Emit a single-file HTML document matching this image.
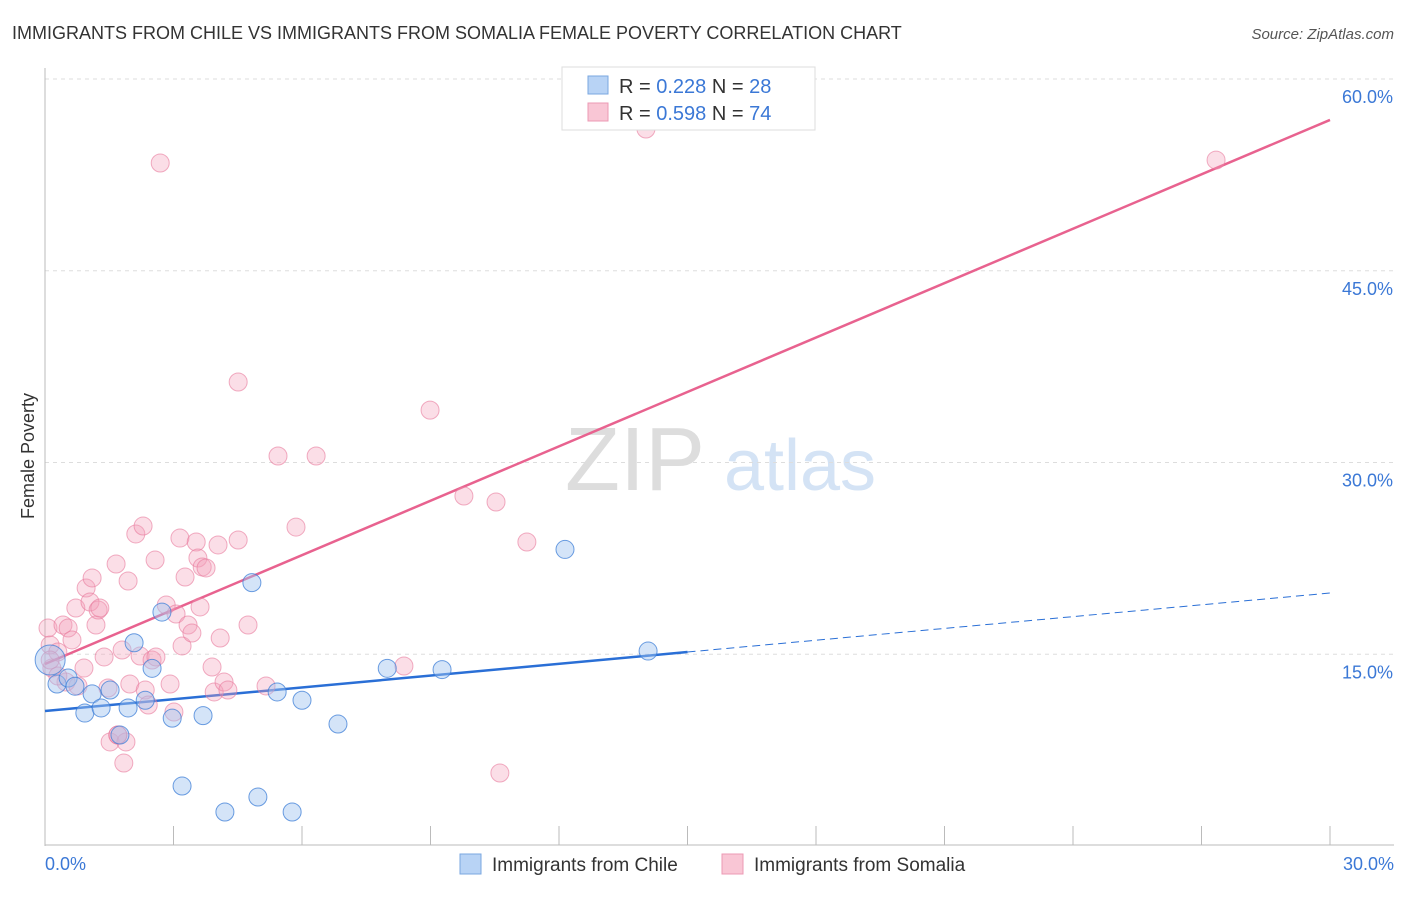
<!DOCTYPE html>
<html><head><meta charset="utf-8"><style>
body{margin:0;background:#fff;font-family:"Liberation Sans",sans-serif;}
svg text{font-family:"Liberation Sans",sans-serif;}
</style></head><body>
<svg id="c" width="1406" height="892" xmlns="http://www.w3.org/2000/svg">
<text x="12" y="39" font-size="18" fill="#333">IMMIGRANTS FROM CHILE VS IMMIGRANTS FROM SOMALIA FEMALE POVERTY CORRELATION CHART</text>
<text x="1394" y="39" font-size="15" fill="#555" font-style="italic" text-anchor="end">Source: ZipAtlas.com</text>
<text x="34" y="456" font-size="18" fill="#333" text-anchor="middle" transform="rotate(-90 34 456)">Female Poverty</text>
<g>
<text x="635" y="490" font-size="90" fill="#ddd" font-family="Liberation Serif" text-anchor="middle">ZIP</text>
<text x="800" y="490" font-size="72" fill="#d4e3f5" text-anchor="middle">atlas</text>
</g>
<g id="grid"></g>
<g id="axes"></g>
<g id="trends"></g>
<g id="pts"></g>
<g>
<rect x="562" y="67" width="253" height="63" fill="#fff" stroke="#ddd"/>
<rect x="588" y="76" width="20" height="18" fill="#b8d3f5" stroke="#7aa7e0"/>
<rect x="588" y="103" width="20" height="18" fill="#f9c6d5" stroke="#ec9ab4"/>
<text x="619" y="93" font-size="20" fill="#333">R = <tspan fill="#3b78d6">0.228</tspan>   N = <tspan fill="#3b78d6">28</tspan></text>
<text x="619" y="120" font-size="20" fill="#333">R = <tspan fill="#3b78d6">0.598</tspan>   N = <tspan fill="#3b78d6">74</tspan></text>
</g>
<g>
<rect x="460" y="854" width="21" height="20" fill="#b8d3f5" stroke="#7aa7e0"/>
<text x="492" y="871" font-size="19" fill="#333">Immigrants from Chile</text>
<rect x="722" y="854" width="21" height="20" fill="#f9c6d5" stroke="#ec9ab4"/>
<text x="754" y="871" font-size="19" fill="#333">Immigrants from Somalia</text>
</g>
</svg>
<script>
const yTicks=[15,30,45,60];
const yTickLabels=["15.0%","30.0%","45.0%","60.0%"];
const xTicks=[0,3,6,9,12,15,18,21,24,27,30];
const xEndLabels=["0.0%","30.0%"];
const chileX=[0.28,0.54,0.93,1.10,1.31,1.52,1.75,1.94,2.08,2.34,2.50,2.73,2.97,3.20,3.69,4.20,4.83,4.97,5.42,5.77,6.00,6.84,7.99,9.27,12.14,14.08,0.12,0.70];
const chileY=[12.67,13.14,10.4,11.9,10.8,12.2,8.68,10.8,15.9,11.4,13.9,18.3,10.0,4.69,10.2,2.66,20.6,3.83,12.05,2.66,11.4,9.54,13.9,13.8,23.2,15.25,14.55,12.5];
const somX=[.07,.12,.16,.30,.42,.49,.54,.63,.72,.77,.91,.96,1.05,1.10,1.19,1.24,1.28,1.38,1.47,1.52,1.66,1.70,1.80,1.84,1.89,1.94,1.98,2.12,2.22,2.29,2.34,2.41,2.50,2.57,2.59,2.69,2.83,2.92,3.01,3.06,3.15,3.20,3.27,3.34,3.43,3.53,3.57,3.62,3.67,3.76,3.90,3.95,4.04,4.09,4.18,4.27,4.51,4.51,4.74,5.16,5.44,5.86,6.33,8.38,8.99,9.78,10.53,10.62,11.25,14.03,27.34,.12,.30,1.70];
const somY=[17.05,15.72,13.92,15.18,17.29,12.83,17.05,16.12,18.62,12.52,13.92,20.18,19.09,20.97,17.29,18.46,18.62,14.79,12.36,8.14,22.06,8.68,15.33,6.49,8.14,20.73,12.67,24.41,14.86,25.03,12.2,11.03,14.55,22.37,14.79,53.43,18.85,12.67,10.48,18.15,24.09,15.65,21.04,17.29,16.66,23.78,22.53,18.7,21.83,21.75,14.0,12.05,23.55,16.27,12.83,12.2,23.94,36.3,17.29,12.52,30.51,24.95,30.51,14.08,34.1,27.38,26.91,5.71,23.78,56.09,53.66,14.55,13.3,8.68];
const chileTrend=[10.56,19.79];
const somTrend=[14.24,56.8];
const chileSolidEnd=15;
const NS="http://www.w3.org/2000/svg";
const X=v=>45+v/30*1285;
const Y=v=>846-v*12.783;
function mk(t,a,p){const e=document.createElementNS(NS,t);for(const k in a)e.setAttribute(k,a[k]);document.getElementById(p).appendChild(e);return e;}
yTicks.forEach((t,i)=>{
 const l=mk('line',{x1:45,x2:1394,y1:Y(t),y2:Y(t),stroke:'#ddd','stroke-dasharray':'4,4'},'grid');
 
 
 const tx=mk('text',{x:1393,y:Y(t)+24,'font-size':18,fill:'#3b78d6','text-anchor':'end'},'grid');
 tx.textContent=yTickLabels[i];
 
 
});
const ax=mk('line',{x1:45,x2:45,y1:68,y2:846,stroke:'#bbb'},'axes');


const bx=mk('line',{x1:45,x2:1394,y1:845,y2:845,stroke:'#bbb'},'axes');


xTicks.forEach(t=>{
 const l=mk('line',{x1:X(t),x2:X(t),y1:826,y2:845,stroke:'#bbb'},'axes');
 
 
});
[[0,'start',45],[30,'end',1394]].forEach((d,i)=>{
 const tx=mk('text',{x:d[2],y:870,'font-size':18,fill:'#3b78d6','text-anchor':d[1]},'axes');
 tx.textContent=xEndLabels[i];
 
 
});
const cy=x=>chileTrend[0]+(chileTrend[1]-chileTrend[0])*x/30;
let l1=mk('line',{x1:X(0),y1:Y(cy(0)),x2:X(chileSolidEnd),y2:Y(cy(chileSolidEnd)),stroke:'#2a6fd6','stroke-width':2.5},'trends');


let l2=mk('line',{x1:X(chileSolidEnd),y1:Y(cy(chileSolidEnd)),x2:X(30),y2:Y(cy(30)),stroke:'#2a6fd6','stroke-width':1,'stroke-dasharray':'8,5'},'trends');


let l3=mk('line',{x1:X(0),y1:Y(somTrend[0]),x2:X(30),y2:Y(somTrend[1]),stroke:'#e8628f','stroke-width':2.5},'trends');


somX.forEach((x,i)=>{
 const c=mk('circle',{cx:X(x),cy:Y(somY[i]),r:9,fill:'rgba(244,160,186,0.35)',stroke:'rgba(232,120,155,0.6)','stroke-width':1},'pts');
 
 
});
chileX.forEach((x,i)=>{
 const c=mk('circle',{cx:X(x),cy:Y(chileY[i]),r:(i==26?15:9),fill:'rgba(160,196,240,0.45)',stroke:'rgba(60,125,215,0.75)','stroke-width':1},'pts');
 
 
});
</script>
</body></html>
